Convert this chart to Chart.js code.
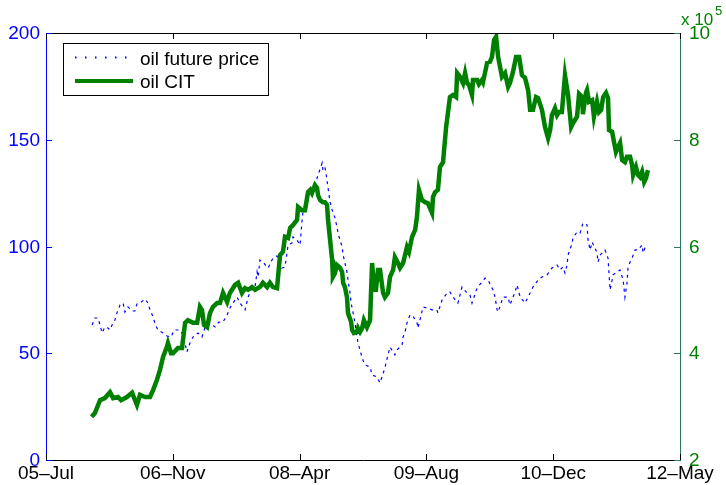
<!DOCTYPE html>
<html>
<head>
<meta charset="utf-8">
<script src="https://cdn.jsdelivr.net/npm/chart.js@4.4.0/dist/chart.umd.min.js"></script>
<style>
  html, body { margin: 0; padding: 0; background: #fff; }
  #wrap { width: 726px; height: 485px; position: relative; }
</style>
</head>
<body>
<div id="wrap"><canvas id="chart"></canvas></div>
<script>
// x values are days counted from the 05-Jul tick
const tickDays = [0, 495, 990, 1485, 1980, 2475];
const tickLabels = ['05\u2013Jul', '06\u2013Nov', '08\u2013Apr', '09\u2013Aug', '10\u2013Dec', '12\u2013May'];

const priceDays = [180,191,203,211,219,230,242,250,258,269,
  277,289,301,308,320,336,347,355,367,387,
  398,406,418,426,437,457,472,488,500,515,
  523,535,550,562,574,593,609,621,640,660,
  675,691,707,718,730,746,757,769,777,789,
  804,816,824,828,835,847,867,882,890,902,
  914,921,933,945,960,964,980,992,999,1003,
  1019,1023,1038,1050,1062,1078,1081,1089,1097,1101,
  1109,1117,1128,1136,1140,1148,1156,1160,1167,1175,
  1179,1187,1191,1199,1206,1218,1226,1234,1245,1265,
  1273,1292,1304,1323,1335,1343,1362,1370,1390,1394,
  1402,1409,1421,1429,1448,1452,1472,1499,1507,1526,
  1530,1546,1569,1577,1589,1608,1624,1644,1655,1663,
  1683,1714,1726,1745,1753,1761,1765,1784,1804,1811,
  1831,1839,1851,1870,1882,1901,1921,1936,1956,1975,
  1995,2007,2018,2026,2034,2038,2054,2057,2073,2085,
  2096,2112,2116,2124,2132,2143,2151,2155,2163,2182,
  2194,2202,2214,2229,2241,2253,2260,2268,2272,2280,
  2288,2300,2311,2327,2331,2342];
const priceVals = [63.2,66.5,66.5,63.2,59.5,62.3,61.8,60.9,63.2,65.6,
  68.9,72.6,73.5,69.3,71.7,69.8,69.8,73.1,73.5,75.4,
  73.5,70.3,67.0,63.7,60.9,59.5,58.1,57.6,60.9,60.9,
  60.9,58.6,50.6,54.8,57.6,59.5,57.6,62.3,64.2,62.3,
  64.6,64.6,67.9,71.2,73.5,76.3,73.5,71.7,70.3,76.3,
  80.6,81.0,88.1,85.7,93.7,92.7,89.9,93.7,95.1,95.6,
  92.7,89.9,90.4,100.7,101.6,104.5,103.0,100.7,111.5,116.2,
  118.5,124.1,128.8,128.8,133.5,139.1,135.8,137.2,131.2,127.4,
  120.8,117.1,113.4,109.1,106.3,103.0,99.8,96.0,92.3,88.1,
  84.3,78.2,73.5,68.9,64.2,54.8,51.5,47.8,44.5,43.6,
  39.8,38.9,36.1,43.1,49.2,52.9,49.2,51.5,53.9,57.6,
  60.0,64.2,67.9,67.9,64.6,61.8,71.7,70.7,70.3,70.3,
  68.9,74.9,78.7,78.7,76.3,73.5,81.0,78.2,77.3,73.5,
  80.6,85.2,84.3,79.6,76.3,70.3,69.3,76.3,76.3,72.6,
  78.7,82.0,76.3,73.5,76.3,81.0,84.3,85.7,86.7,89.9,
  91.3,89.0,90.4,87.6,91.3,96.0,101.6,104.0,106.8,106.3,
  111.0,110.1,103.0,98.4,102.1,99.3,97.0,92.7,96.0,98.4,
  94.6,79.6,86.7,88.1,89.0,84.3,76.3,82.9,89.9,92.7,
  94.6,98.4,98.4,100.7,97.0,100.7];

// oil CIT, in units of 10^5
const citDays = [178,191,211,230,250,262,281,293,316,336,
  355,367,387,406,418,433,445,457,472,476,
  488,496,515,531,543,554,574,590,601,609,
  617,629,640,652,668,679,691,707,718,738,
  750,765,777,789,804,816,835,847,863,874,
  886,902,910,914,925,933,945,953,964,980,
  984,999,1011,1023,1031,1038,1050,1058,1062,1070,
  1081,1089,1097,1101,1109,1117,1120,1128,1136,1148,
  1156,1160,1167,1175,1179,1191,1195,1202,1214,1218,
  1226,1234,1241,1253,1265,1273,1281,1288,1296,1304,
  1316,1323,1335,1343,1355,1362,1374,1382,1394,1409,
  1417,1429,1441,1448,1456,1468,1480,1491,1507,1511,
  1519,1530,1538,1550,1554,1562,1569,1577,1589,1601,
  1605,1616,1628,1636,1644,1651,1663,1667,1683,1690,
  1702,1706,1722,1733,1741,1749,1757,1765,1780,1792,
  1804,1811,1823,1835,1847,1858,1870,1882,1890,1901,
  1913,1921,1936,1948,1960,1968,1975,1987,1995,2003,
  2014,2026,2038,2050,2057,2073,2081,2093,2096,2108,
  2112,2120,2132,2139,2151,2159,2167,2175,2186,2194,
  2198,2210,2218,2225,2233,2241,2249,2260,2268,2280,
  2288,2292,2303,2311,2319,2327,2335,2342,2350];
const citVals = [2.81,2.88,3.12,3.16,3.27,3.16,3.18,3.12,3.18,3.26,
  3.03,3.22,3.18,3.18,3.31,3.50,3.69,3.93,4.12,4.19,
  4.00,4.00,4.10,4.10,4.57,4.62,4.57,4.57,4.87,4.81,
  4.53,4.49,4.75,4.87,4.94,4.94,5.13,4.96,5.13,5.28,
  5.32,5.13,5.22,5.19,5.24,5.19,5.24,5.32,5.24,5.32,
  5.24,5.22,5.65,5.84,5.90,6.18,6.16,6.35,6.40,6.50,
  6.74,6.68,6.68,7.02,7.06,7.00,7.15,7.10,6.96,6.87,
  6.83,6.83,6.78,6.50,6.12,5.75,5.43,5.50,5.65,5.60,
  5.52,5.32,5.24,5.05,4.75,4.59,4.44,4.38,4.40,4.47,
  4.40,4.47,4.62,4.49,4.62,5.69,5.19,5.19,5.56,5.56,
  5.13,5.05,5.13,5.43,5.56,5.80,5.69,5.60,5.69,5.99,
  5.90,6.18,6.31,6.55,7.06,6.87,6.83,6.81,6.63,6.93,
  7.02,7.06,7.49,7.58,7.81,8.24,8.50,8.80,8.84,8.80,
  9.25,9.18,9.06,9.25,9.06,9.03,8.84,9.12,9.12,9.04,
  9.12,9.08,9.44,9.46,9.55,9.87,9.93,9.55,9.18,9.25,
  8.99,9.06,9.27,9.55,9.55,9.21,9.16,8.93,8.56,8.56,
  8.80,8.78,8.56,8.24,8.03,8.18,8.46,8.59,8.46,8.52,
  8.52,9.21,8.84,8.24,8.31,8.43,8.86,8.80,8.48,8.88,
  8.93,8.71,8.74,8.43,8.71,8.52,8.56,8.80,8.88,8.78,
  8.18,8.15,7.94,7.77,7.86,7.94,7.62,7.58,7.68,7.68,
  7.53,7.34,7.49,7.34,7.30,7.40,7.21,7.28,7.43];

const BLUE = '#0000ff';
const GREEN = '#008000';
const RAXIS = '#2b7a5e';
const FONT = '"Liberation Sans", Arial, Helvetica, sans-serif';

// matlab style: inward ticks, tick labels, top box edge, legend, x10^5 note
const matlabDecor = {
    id: 'matlabDecor',
    afterDraw(chart) {
        const ctx = chart.ctx;
        const a = chart.chartArea;
        const xs = chart.scales.x, yl = chart.scales.y, yr = chart.scales.y2;
        const len = 6;
        ctx.save();
        ctx.lineWidth = 1;

        ctx.strokeStyle = '#000';
        ctx.beginPath();
        ctx.moveTo(a.left, a.top + 0.5);
        ctx.lineTo(a.right, a.top + 0.5);
        xs.ticks.forEach(t => {
            const px = Math.round(xs.getPixelForValue(t.value)) + 0.5;
            ctx.moveTo(px, a.bottom);
            ctx.lineTo(px, a.bottom - len);
            ctx.moveTo(px, a.top);
            ctx.lineTo(px, a.top + len);
        });
        ctx.stroke();

        ctx.strokeStyle = BLUE;
        ctx.beginPath();
        yl.ticks.forEach(t => {
            const py = Math.round(yl.getPixelForValue(t.value)) + 0.5;
            ctx.moveTo(a.left, py);
            ctx.lineTo(a.left + len, py);
        });
        ctx.stroke();

        ctx.strokeStyle = RAXIS;
        ctx.beginPath();
        yr.ticks.forEach(t => {
            const py = Math.round(yr.getPixelForValue(t.value)) + 0.5;
            ctx.moveTo(a.right, py);
            ctx.lineTo(a.right - len, py);
        });
        ctx.stroke();

        // tick labels
        ctx.font = '19px ' + FONT;
        ctx.textBaseline = 'middle';
        ctx.fillStyle = '#000';
        ctx.textAlign = 'center';
        xs.ticks.forEach(t => {
            ctx.fillText(tickLabels[tickDays.indexOf(t.value)], xs.getPixelForValue(t.value), a.bottom + 14);
        });
        ctx.fillStyle = BLUE;
        ctx.textAlign = 'right';
        yl.ticks.forEach(t => {
            ctx.fillText(String(t.value), a.left - 6, yl.getPixelForValue(t.value) + 1);
        });
        ctx.fillStyle = GREEN;
        ctx.textAlign = 'left';
        yr.ticks.forEach(t => {
            ctx.fillText(String(t.value), a.right + 9, yr.getPixelForValue(t.value) + 1);
        });

        // legend box
        const lx = 63, ly = 43, lw = 205, lh = 52;
        ctx.fillStyle = '#fff';
        ctx.fillRect(lx, ly, lw, lh);
        ctx.strokeStyle = '#000';
        ctx.lineWidth = 1;
        ctx.strokeRect(lx + 0.5, ly + 0.5, lw, lh);

        ctx.strokeStyle = BLUE;
        ctx.lineWidth = 2;
        ctx.setLineDash([1.5, 8.5]);
        ctx.beginPath();
        ctx.moveTo(75, 57.5);
        ctx.lineTo(131, 57.5);
        ctx.stroke();
        ctx.setLineDash([]);

        ctx.strokeStyle = GREEN;
        ctx.lineWidth = 4;
        ctx.beginPath();
        ctx.moveTo(75, 81);
        ctx.lineTo(133, 81);
        ctx.stroke();

        ctx.fillStyle = '#000';
        ctx.font = '19px ' + FONT;
        ctx.textAlign = 'left';
        ctx.textBaseline = 'alphabetic';
        ctx.fillText('oil future price', 140, 65);
        ctx.fillText('oil CIT', 140, 88);

        ctx.fillStyle = GREEN;
        ctx.font = '17px ' + FONT;
        ctx.fillText('x 10', 681, 25);
        ctx.font = '13px ' + FONT;
        ctx.fillText('5', 715, 15);
        ctx.restore();
    }
};

const ctx = document.getElementById('chart').getContext('2d');
new Chart(ctx, {
    type: 'line',
    data: {
        datasets: [{
            label: 'oil CIT',
            yAxisID: 'y2',
            data: citDays.map((d, i) => ({ x: d, y: citVals[i] })),
            borderColor: GREEN,
            borderWidth: 4.5,
            pointRadius: 0,
            tension: 0,
            fill: false
        }, {
            label: 'oil future price',
            yAxisID: 'y',
            data: priceDays.map((d, i) => ({ x: d, y: priceVals[i] })),
            borderColor: BLUE,
            borderWidth: 1.2,
            borderDash: [3, 4],
            pointRadius: 0,
            tension: 0,
            fill: false
        }]
    },
    options: {
        responsive: true,
        maintainAspectRatio: false,
        animation: false,
        layout: { padding: { top: 33, left: 0, right: 0, bottom: 0 } },
        plugins: {
            legend: { display: false },
            tooltip: { enabled: false }
        },
        scales: {
            x: {
                type: 'linear',
                min: 0,
                max: 2475,
                afterBuildTicks(scale) {
                    scale.ticks = tickDays.map(v => ({ value: v }));
                },
                afterFit(scale) { scale.height = 25; },
                grid: { display: false, drawTicks: false },
                border: { display: true, color: '#000', width: 1 },
                ticks: { display: false }
            },
            y: {
                position: 'left',
                min: 0,
                max: 200,
                afterFit(scale) { scale.width = 46; },
                grid: { display: false, drawTicks: false },
                border: { display: true, color: BLUE, width: 1 },
                ticks: { display: false, stepSize: 50 }
            },
            y2: {
                position: 'right',
                min: 2,
                max: 10,
                afterFit(scale) { scale.width = 46; },
                grid: { display: false, drawTicks: false },
                border: { display: true, color: RAXIS, width: 1 },
                ticks: { display: false, stepSize: 2 }
            }
        }
    },
    plugins: [matlabDecor]
});
</script>
</body>
</html>
